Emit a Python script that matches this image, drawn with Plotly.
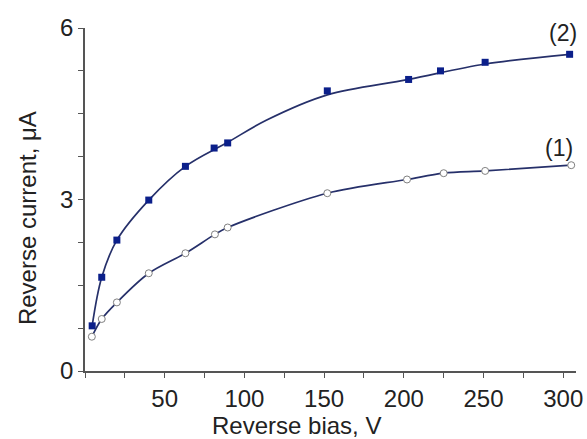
import plotly.graph_objects as go

# Series (2): measured points
bias_2 = [4.5, 10.5, 20, 40, 63, 81, 89.5, 152, 203, 223, 251, 304]
current_2 = [0.79, 1.64, 2.29, 2.99, 3.58, 3.90, 3.99, 4.90, 5.10, 5.25, 5.40, 5.54]
# Series (2): fitted curve
fit_bias_2 = [4.5, 10.5, 20, 40, 63, 89.5, 114, 152, 203, 251, 304]
fit_current_2 = [0.79, 1.64, 2.29, 2.99, 3.58, 4.00, 4.39, 4.83, 5.10, 5.37, 5.54]

# Series (1): measured points (curve passes through them)
bias_1 = [4.3, 10.5, 20, 40, 63, 81.5, 89.5, 152, 202, 225, 251, 305]
current_1 = [0.60, 0.91, 1.20, 1.71, 2.06, 2.39, 2.51, 3.11, 3.35, 3.46, 3.50, 3.60]

x_tickvals = [25 * i for i in range(13)]
x_ticktext = ["" if v % 50 or v == 0 else str(v) for v in x_tickvals]
y_tickvals = [0.75 * i for i in range(9)]
y_ticktext = ["0", "", "", "", "3", "", "", "", "6"]

LINE = "#26306a"
AXIS = "#555555"
TEXT = "#222222"
FONT = "Liberation Sans, Arial, sans-serif"

fig = go.Figure()
fig.add_trace(go.Scatter(
    x=fit_bias_2, y=fit_current_2, mode="lines",
    line=dict(color=LINE, width=1.7, shape="spline", smoothing=1.0),
    hoverinfo="skip", showlegend=False))
fig.add_trace(go.Scatter(
    x=bias_2, y=current_2, mode="markers",
    marker=dict(symbol="square", size=7, color="#0b1f8a", line=dict(width=0)),
    showlegend=False, cliponaxis=False))
fig.add_trace(go.Scatter(
    x=bias_1, y=current_1, mode="lines",
    line=dict(color=LINE, width=1.7, shape="spline", smoothing=0.9),
    hoverinfo="skip", showlegend=False))
fig.add_trace(go.Scatter(
    x=bias_1, y=current_1, mode="markers",
    marker=dict(symbol="circle", size=7, color="white", line=dict(width=1, color="#808080")),
    showlegend=False, cliponaxis=False))

fig.add_annotation(x=bias_2[-1], y=current_2[-1], text="(2)", showarrow=False,
                   xanchor="center", yanchor="middle", yshift=21, xshift=-7,
                   font=dict(family=FONT, size=23, color=TEXT))
fig.add_annotation(x=bias_1[-1], y=current_1[-1], text="(1)", showarrow=False,
                   xanchor="center", yanchor="middle", yshift=17, xshift=-12,
                   font=dict(family=FONT, size=23, color=TEXT))

# axis titles
fig.add_annotation(xref="paper", yref="paper", x=0.43, y=-0.16, text="Reverse bias, V",
                   showarrow=False, xanchor="center", yanchor="middle",
                   font=dict(family=FONT, size=24, color=TEXT))
fig.add_annotation(xref="paper", yref="paper", x=-0.118, y=0.446, text="Reverse current, μA",
                   showarrow=False, xanchor="center", yanchor="middle", textangle=-90,
                   font=dict(family=FONT, size=24, color=TEXT))

fig.update_layout(
    width=587, height=439,
    margin=dict(l=85, r=4, t=28, b=68),
    paper_bgcolor="white", plot_bgcolor="white",
    font=dict(family=FONT, size=24, color=TEXT),
    xaxis=dict(range=[0, 308], tickmode="array", tickvals=x_tickvals, ticktext=x_ticktext,
               ticks="outside", ticklen=5, tickwidth=1.3, tickcolor=AXIS,
               showline=True, linecolor=AXIS, linewidth=1.6, showgrid=False, zeroline=False,
               ticklabeloverflow="allow", tickfont=dict(size=24)),
    yaxis=dict(range=[0, 6], tickmode="array", tickvals=y_tickvals, ticktext=y_ticktext,
               ticks="outside", ticklen=5, tickwidth=1.3, tickcolor=AXIS,
               showline=True, linecolor=AXIS, linewidth=1.6, showgrid=False, zeroline=False,
               tickfont=dict(size=24)),
)

fig.write_html("out.html")
